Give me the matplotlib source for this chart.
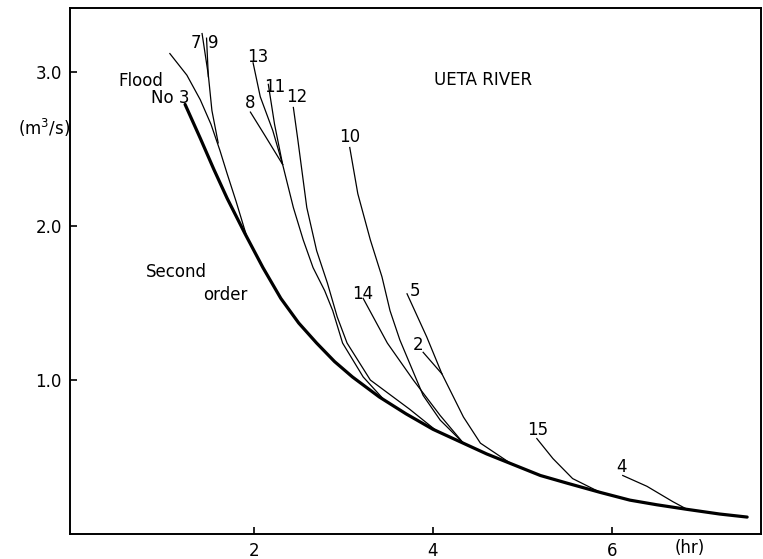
import matplotlib.pyplot as plt

# master recession curve (second order)
second_t = [1.23, 1.40, 1.55, 1.70, 1.90, 2.10, 2.30, 2.50, 2.70, 2.90, 3.10, 3.40, 3.70,
            4.00, 4.30, 4.60, 4.90, 5.20, 5.50, 5.87, 6.20, 6.50, 6.84, 7.20, 7.51]
second_q = [2.79, 2.57, 2.37, 2.18, 1.95, 1.73, 1.53, 1.37, 1.24, 1.12, 1.02, 0.89, 0.78,
            0.68, 0.60, 0.52, 0.45, 0.38, 0.33, 0.27, 0.22, 0.19, 0.16, 0.13, 0.11]

# individual flood recessions
flood3_t = [1.06, 1.25, 1.40, 1.52, 1.62, 1.70, 1.80, 1.92]
flood3_q = [3.12, 2.98, 2.82, 2.66, 2.49, 2.34, 2.16, 1.93]

f7_t = [1.42, 1.49, 1.53, 1.60]
f7_q = [3.25, 2.98, 2.75, 2.54]
f9_t = [1.47, 1.49]
f9_q = [3.22, 2.97]

f13_t = [1.99, 2.07, 2.21, 2.32]
f13_q = [3.06, 2.84, 2.62, 2.40]
f11_t = [2.16, 2.23, 2.32]
f11_q = [2.92, 2.66, 2.40]
f8_t = [1.96, 2.12, 2.32, 2.44, 2.55, 2.66, 2.79, 2.88, 2.99, 3.22, 3.44]
f8_q = [2.74, 2.59, 2.40, 2.12, 1.91, 1.73, 1.58, 1.45, 1.24, 1.02, 0.88]

f12_t = [2.44, 2.49, 2.54, 2.59, 2.70, 2.82, 2.93, 3.04, 3.30, 3.74, 4.04]
f12_q = [2.77, 2.56, 2.34, 2.12, 1.84, 1.63, 1.41, 1.24, 1.00, 0.81, 0.67]

f10_t = [3.07, 3.16, 3.30, 3.43, 3.52, 3.63, 3.89, 4.08, 4.34]
f10_q = [2.51, 2.21, 1.91, 1.67, 1.45, 1.26, 0.90, 0.74, 0.59]

f14_t = [3.22, 3.49, 3.78, 4.08, 4.34]
f14_q = [1.53, 1.24, 1.00, 0.77, 0.59]

f5_t = [3.71, 3.93, 4.10, 4.34, 4.53, 4.89]
f5_q = [1.56, 1.28, 1.04, 0.76, 0.59, 0.45]
f2_t = [3.89, 4.10]
f2_q = [1.18, 1.04]

f15_t = [5.16, 5.34, 5.56, 5.87]
f15_q = [0.62, 0.49, 0.36, 0.27]

f4_t = [6.12, 6.39, 6.68, 6.84]
f4_q = [0.38, 0.31, 0.21, 0.16]

thin = [(flood3_t, flood3_q), (f7_t, f7_q), (f9_t, f9_q), (f13_t, f13_q),
        (f11_t, f11_q), (f8_t, f8_q), (f12_t, f12_q), (f10_t, f10_q),
        (f14_t, f14_q), (f5_t, f5_q), (f2_t, f2_q), (f15_t, f15_q), (f4_t, f4_q)]

# curve labels
labels = ['7', '9', '13', '11', '12', '8', '10', '14', '5', '2', '15', '4']
label_t = [1.35, 1.55, 2.04, 2.23, 2.48, 1.96, 3.07, 3.21, 3.80, 3.83, 5.17, 6.11]
label_q = [3.19, 3.19, 3.10, 2.90, 2.84, 2.80, 2.58, 1.56, 1.58, 1.23, 0.675, 0.435]

fig = plt.figure(figsize=(7.63, 5.59), dpi=100)
ax = fig.add_axes([0.0917, 0.0447, 0.9057, 0.941])

for t, q in thin:
    ax.plot(t, q, color='black', lw=0.9)
ax.plot(second_t, second_q, color='black', lw=2.3, solid_capstyle='round')

for s, t, q in zip(labels, label_t, label_q):
    ax.text(t, q, s, fontsize=12, ha='center', va='center')

ax.text(0.73, 2.94, 'Flood', fontsize=12, ha='center', va='center')
ax.text(1.06, 2.83, 'No 3', fontsize=12, ha='center', va='center')
ax.text(4.56, 2.95, 'UETA RIVER', fontsize=12, ha='center', va='center')
ax.text(1.13, 1.70, 'Second', fontsize=12, ha='center', va='center')
ax.text(1.68, 1.55, 'order', fontsize=12, ha='center', va='center')
ax.text(-0.34, 2.64, '(m$^3$/s)', fontsize=12, ha='center', va='center', clip_on=False)
ax.text(6.87, -0.09, '(hr)', fontsize=12, ha='center', va='center', clip_on=False)

ax.set_xlim(-0.056, 7.665)
ax.set_ylim(0, 3.416)
ax.set_xticks([2, 4, 6])
ax.set_xticklabels(['2', '4', '6'])
ax.set_yticks([1.0, 2.0, 3.0])
ax.set_yticklabels(['1.0', '2.0', '3.0'])
ax.tick_params(direction='in', length=5, width=1.2, labelsize=12, pad=6)
for sp in ax.spines.values():
    sp.set_linewidth(1.4)

fig.savefig('out.png', dpi=100)
